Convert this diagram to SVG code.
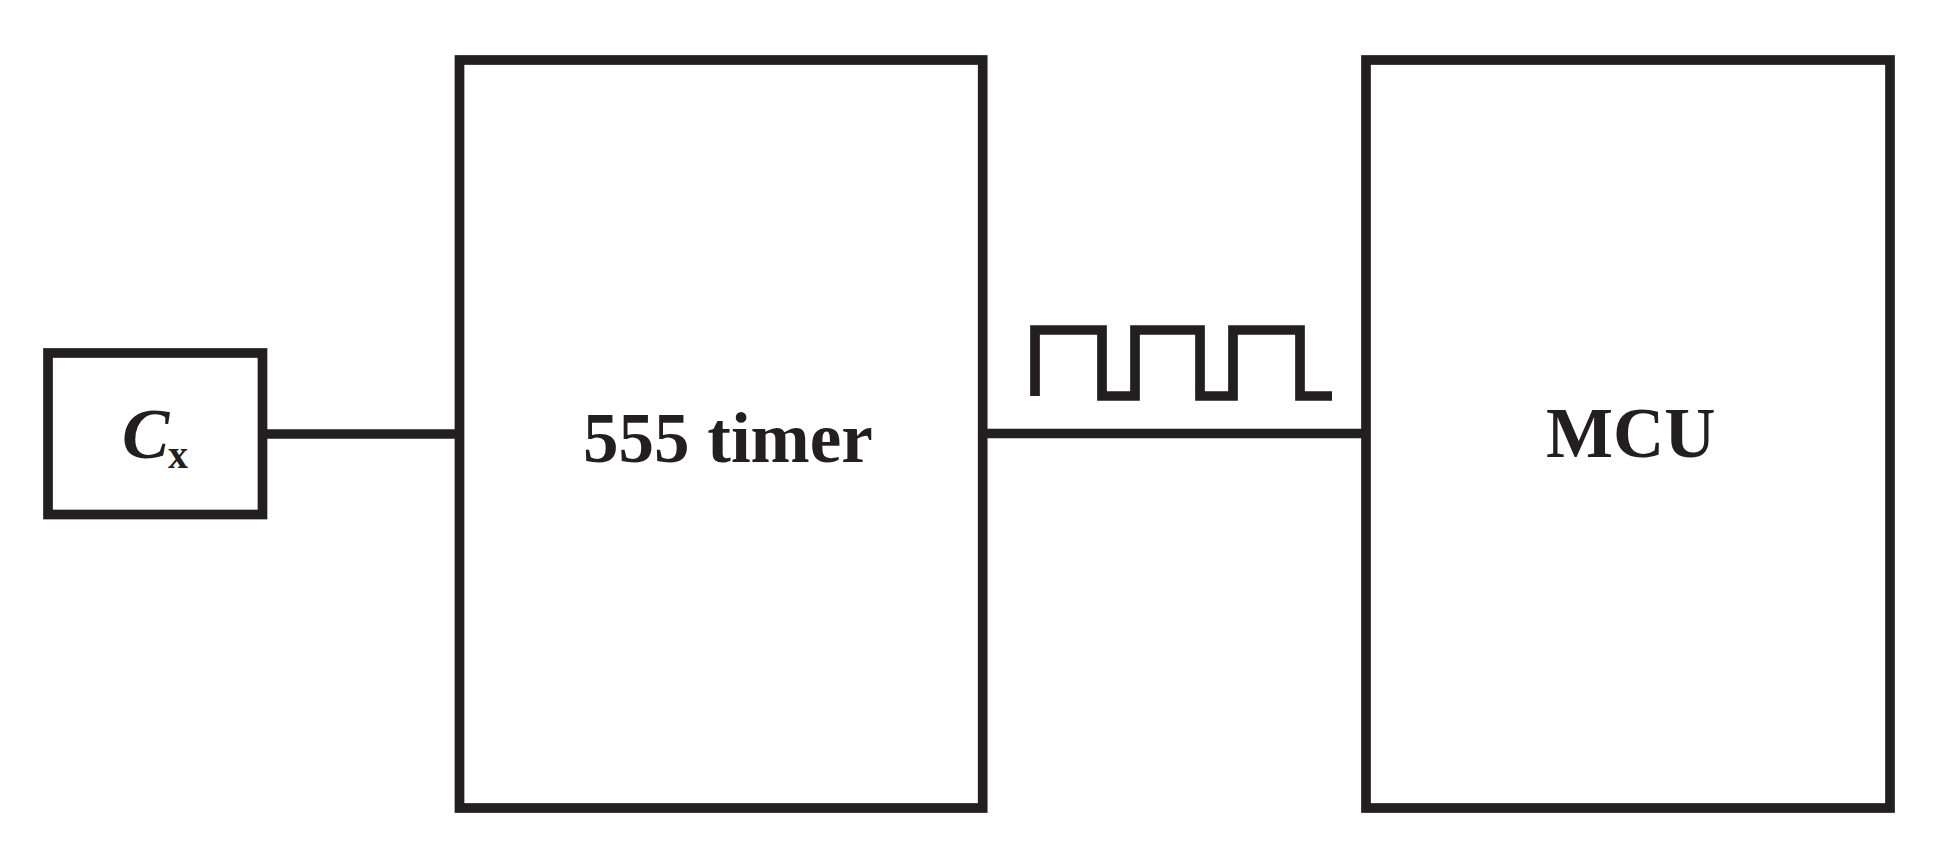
<svg xmlns="http://www.w3.org/2000/svg" width="1933" height="856" viewBox="0 0 1933 856">
<style>
.box{fill:none;stroke:#231f20;stroke-width:9.7;stroke-linejoin:miter}
.wire{fill:none;stroke:#231f20;stroke-width:9.7}
.lbl{font-family:"Liberation Serif","Times New Roman",serif;font-weight:bold;fill:#231f20}
</style>
<rect width="1933" height="856" fill="#ffffff"/>
<g id="cx">
<rect class="box" x="48" y="353" width="214.5" height="161.5"/>
<text class="lbl" x="122" y="457.5" font-size="71" font-style="italic">C</text>
<text class="lbl" x="168" y="467.5" font-size="40">x</text>
</g>
<g id="timer555">
<rect class="box" x="459.5" y="60" width="523.2" height="748"/>
<text class="lbl" x="583" y="461.7" font-size="71">555 timer</text>
</g>
<g id="mcu">
<rect class="box" x="1366" y="60" width="524" height="748"/>
<text class="lbl" x="1546" y="456.7" font-size="71">MCU</text>
</g>
<g id="connectors">
<line class="wire" x1="262.5" y1="434" x2="459.5" y2="434"/>
<line class="wire" x1="982.7" y1="433.5" x2="1366" y2="433.5"/>
<path class="wire" d="M1035,396 V330 H1102 V396 H1135 V330 H1200 V396 H1233 V330 H1300 V396 H1332" stroke-linecap="butt"/>
</g>
</svg>
